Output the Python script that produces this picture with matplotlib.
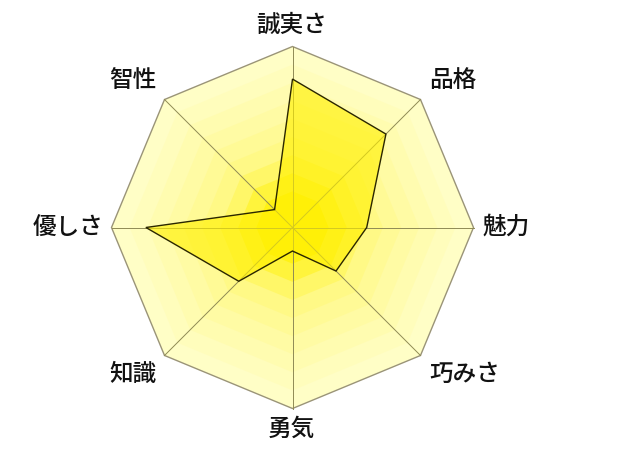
import numpy as np
import matplotlib
matplotlib.use("Agg")
import matplotlib.pyplot as plt
from matplotlib.patches import Polygon

plt.rcParams['font.family'] = ['Noto Sans CJK JP', 'DejaVu Sans']

# axes clockwise from the top
labels = ['誠実さ', '品格', '魅力', '巧みさ', '勇気', '知識', '優しさ', '智性']
values = [0.82, 0.73, 0.41, 0.34, 0.13, 0.42, 0.81, 0.14]

# background band colours, outside -> centre
band_levels = [1.0, 0.9, 0.8, 0.7, 0.6, 0.5, 0.4, 0.3, 0.2]
band_colors = ['#fffec6', '#fffdbc', '#fffcb0', '#fffba4', '#fffa96',
               '#fff986', '#fff768', '#fff43c', '#fff214']

cx, cy, R = 292.5, 227.5, 181.0
n = len(labels)
ang = np.deg2rad(90 - 360.0 / n * np.arange(n))


def pts(r):
    r = np.broadcast_to(r, ang.shape)
    return np.column_stack([cx + R * r * np.cos(ang), cy - R * r * np.sin(ang)])


fig = plt.figure(figsize=(6.4, 4.51), dpi=100)
ax = fig.add_axes([0, 0, 1, 1])
ax.set_xlim(0, 640)
ax.set_ylim(451, 0)
ax.axis('off')

# concentric octagon bands
for lev, col in zip(band_levels, band_colors):
    ax.add_patch(Polygon(pts(lev), closed=True, facecolor=col, edgecolor='none', zorder=1))

# outer frame and spokes
ax.add_patch(Polygon(pts(1.0), closed=True, facecolor='none', edgecolor='#9a9478',
                     lw=1.0, zorder=2))
outer = pts(1.0)
for x, y in outer:
    ax.plot([cx, x], [cy, y], color='#8f8a55', lw=0.7, zorder=2)

# data polygon
ax.add_patch(Polygon(pts(np.array(values)), closed=True, facecolor='#fff000', alpha=0.62,
                     edgecolor='none', zorder=3))
ax.add_patch(Polygon(pts(np.array(values)), closed=True, facecolor='none',
                     edgecolor='#2a2600', lw=1.0, zorder=4))

# labels
for (x, y), a, lab in zip(outer, ang, labels):
    c, s = np.cos(a), np.sin(a)
    if c > 0.1:
        ha, tx = 'left', x + 9
    elif c < -0.1:
        ha, tx = 'right', x - 8
    else:
        ha, tx = 'center', x - 1
    if s > 0.9:
        ty = y - 21
    elif s < -0.9:
        ty = y + 21
    elif s > 0.1:
        ty = y - 19
    elif s < -0.1:
        ty = y + 19
    else:
        ty = y
    ax.text(tx, ty, lab, ha=ha, va='center', fontsize=17, fontweight='medium',
            color='#111111', zorder=5)

fig.savefig('out.png', dpi=100)
